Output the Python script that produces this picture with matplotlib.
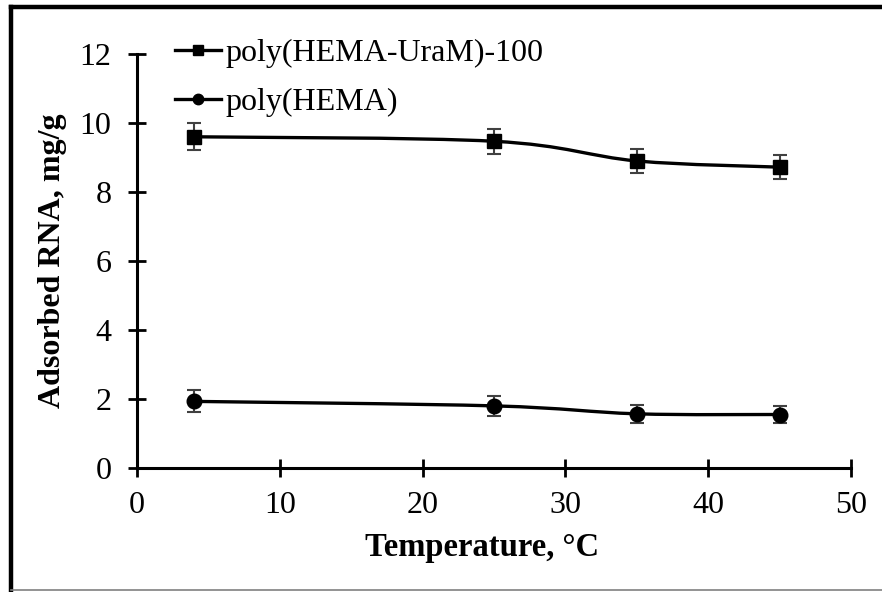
import numpy as np
import matplotlib
matplotlib.use("Agg")
import matplotlib.pyplot as plt
from matplotlib.path import Path
from matplotlib.patches import PathPatch
from matplotlib.lines import Line2D

plt.rcParams['font.family'] = ['Liberation Serif', 'DejaVu Serif']

temperature = [4, 25, 35, 45]
uram_values = [9.6, 9.47, 8.9, 8.72]
uram_err = [0.39, 0.36, 0.36, 0.35]
hema_values = [1.93, 1.8, 1.57, 1.55]
hema_err = [0.32, 0.29, 0.26, 0.26]
x_ticks = [0, 10, 20, 30, 40, 50]
y_ticks = [0, 2, 4, 6, 8, 10, 12]


def smooth_path(xs, ys):
    # excel-like smoothed line: catmull-rom segments as cubic beziers
    pts = np.column_stack([xs, ys]).astype(float)
    ext = np.vstack([pts[0], pts, pts[-1]])
    verts = [pts[0]]
    codes = [Path.MOVETO]
    for i in range(1, len(ext) - 2):
        p0, p1, p2, p3 = ext[i - 1], ext[i], ext[i + 1], ext[i + 2]
        c1 = p1 + (p2 - p0) / 6.0
        c2 = p2 - (p3 - p1) / 6.0
        verts += [c1, c2, p2]
        codes += [Path.CURVE4] * 3
    return Path(verts, codes)


fig = plt.figure(figsize=(8.82, 5.92), dpi=100)
ax = fig.add_axes([0.1553, 0.2095, 0.8096, 0.6993])

for vals, errs, mk, lab in [(uram_values, uram_err, 's', 'poly(HEMA-UraM)-100'),
                            (hema_values, hema_err, 'o', 'poly(HEMA)')]:
    ax.add_patch(PathPatch(smooth_path(temperature, vals), facecolor='none',
                           edgecolor='black', lw=2.4, zorder=2))
    ax.errorbar(temperature, vals, yerr=errs, fmt='none', ecolor='#404040',
                elinewidth=1.5, capsize=5, capthick=1.5, zorder=3)
    ax.plot(temperature, vals, linestyle='none', marker=mk, color='black',
            markersize=10.5, zorder=4)
    # legend proxy
    ax.plot([], [], color='black', lw=2.4, marker=mk, markersize=7.5, label=lab)

ax.set_xlim(0, 50)
ax.set_ylim(0, 12)
ax.set_xticks(x_ticks)
ax.set_yticks(y_ticks)
ax.tick_params(direction='inout', length=13, width=2, labelsize=23)
ax.tick_params(axis='x', pad=10)
ax.tick_params(axis='y', pad=12)
for side in ['top', 'right']:
    ax.spines[side].set_visible(False)
for side in ['left', 'bottom']:
    ax.spines[side].set_linewidth(2.2)

ax.set_xlabel('Temperature, °C', fontsize=23.5, fontweight='bold')
ax.xaxis.set_label_coords(0.483, -0.155)
ax.set_ylabel('Adsorbed RNA, mg/g', fontsize=23, fontweight='bold')
ax.yaxis.set_label_coords(-0.098, 0.5)

ax.legend(loc='upper left', bbox_to_anchor=(0.035, 1.068), frameon=False,
          fontsize=23, handlelength=1.45, handletextpad=0.15, labelspacing=0.62,
          borderaxespad=0)

# outer frame
fig.add_artist(Line2D([0.0125, 0.0125], [0.0035, 0.988], transform=fig.transFigure,
                      color='black', lw=3.2))
fig.add_artist(Line2D([0.0125, 1.0], [0.988, 0.988], transform=fig.transFigure,
                      color='black', lw=3.2))
fig.add_artist(Line2D([0.0125, 1.0], [0.0035, 0.0035], transform=fig.transFigure,
                      color='#808080', lw=1.2))

fig.savefig('out.png', dpi=100)
